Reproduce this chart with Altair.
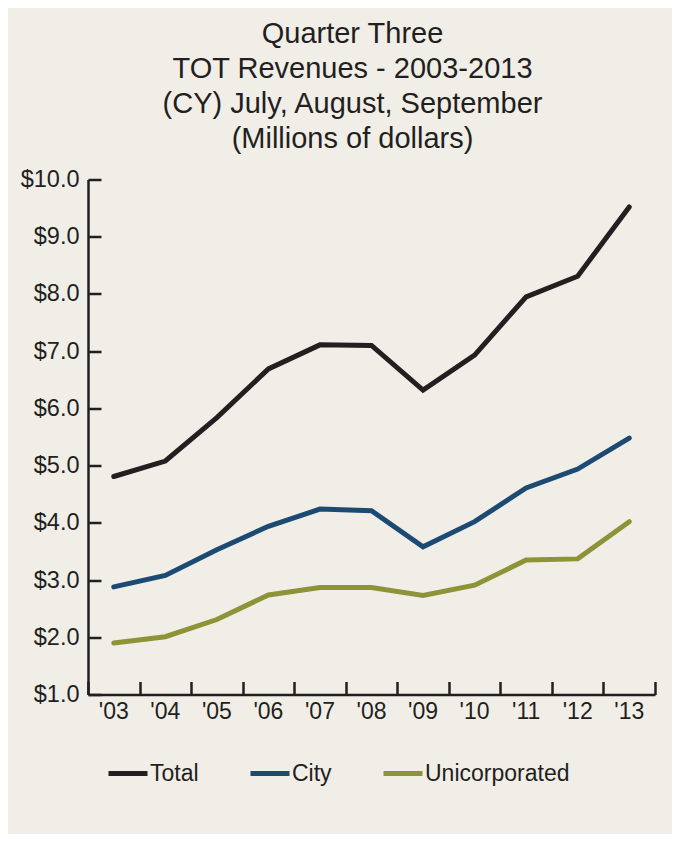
import altair as alt
import pandas as pd

years = ["'03", "'04", "'05", "'06", "'07", "'08", "'09", "'10", "'11", "'12", "'13"]
total = [4.81, 5.08, 5.84, 6.69, 7.11, 7.10, 6.32, 6.93, 7.95, 8.31, 9.52]
city = [2.88, 3.08, 3.53, 3.94, 4.24, 4.21, 3.58, 4.02, 4.61, 4.94, 5.48]
uninc = [1.90, 2.01, 2.31, 2.74, 2.87, 2.87, 2.73, 2.91, 3.35, 3.37, 4.02]
series = ["Total", "City", "Unicorporated"]
colors = ["#231f20", "#1d4a72", "#8e9337"]
y_ticks = [1, 2, 3, 4, 5, 6, 7, 8, 9, 10]
title_lines = ["Quarter Three", "TOT Revenues - 2003-2013",
               "(CY) July, August, September", "(Millions of dollars)"]

rows = []
for name, vals in zip(series, [total, city, uninc]):
    for yr, v in zip(years, vals):
        rows.append({"Year": yr, "Value": v, "Series": name})
df = pd.DataFrame(rows)

FONT = "Liberation Sans"
INK = "#231f20"
W, H = 567, 515

xscale = alt.Scale(type="band", domain=years, paddingInner=0, paddingOuter=0)
yscale = alt.Scale(domain=[1, 10], nice=False, zero=False)

lines = alt.Chart(df).mark_line(strokeWidth=5, strokeCap="round", strokeJoin="miter").encode(
    x=alt.X("Year:N", scale=xscale, sort=years, bandPosition=0.5, title=None,
            axis=alt.Axis(orient="bottom", ticks=False, domain=True, domainColor=INK,
                          domainWidth=2.5, labelFont=FONT, labelFontSize=23,
                          labelColor=INK, labelPadding=6, labelAngle=0)),
    y=alt.Y("Value:Q", scale=yscale, title=None,
            axis=alt.Axis(orient="left", values=y_ticks, format="$.1f", ticks=False,
                          grid=False, domain=True, domainColor=INK, domainWidth=2.5,
                          labelFont=FONT, labelFontSize=23.5, labelColor=INK,
                          labelPadding=9)),
    color=alt.Color("Series:N", scale=alt.Scale(domain=series, range=colors), title=None,
                    legend=alt.Legend(orient="none", legendX=18, legendY=572,
                                      direction="horizontal", symbolType="stroke",
                                      symbolSize=1521, symbolStrokeWidth=5,
                                      labelFont=FONT, labelFontSize=23, labelColor=INK,
                                      labelOffset=0, columnPadding=41)),
)

ticks_layer = alt.Chart(df).mark_line(opacity=0).encode(
    x=alt.X("Year:N", scale=xscale, sort=years, bandPosition=0.5, title=None,
            axis=alt.Axis(orient="top", offset=-H, labels=False, domain=False,
                          ticks=True, tickBand="extent", tickSize=13, tickWidth=2.5,
                          tickColor=INK, grid=False)),
    y=alt.Y("Value:Q", scale=yscale, title=None,
            axis=alt.Axis(orient="right", offset=-W, values=y_ticks, labels=False,
                          domain=False, ticks=True, tickSize=13, tickWidth=2.5,
                          tickColor=INK, grid=False)),
    detail="Series:N",
)

chart = alt.layer(lines, ticks_layer).resolve_axis(x="independent", y="independent").properties(
    width=W, height=H,
    autosize=alt.AutoSizeParams(type="none"),
    padding={"left": 80, "top": 171.5, "right": 17, "bottom": 139},
    background="#f1eee8",
    title=alt.TitleParams(text=title_lines, font=FONT, fontSize=29, fontWeight="normal",
                          color=INK, lineHeight=35, anchor="middle", frame="group",
                          baseline="bottom", offset=26, dx=-19, dy=41),
).configure_view(stroke="transparent")

chart.save("out.html", embed_options={"renderer": "svg", "actions": False})
